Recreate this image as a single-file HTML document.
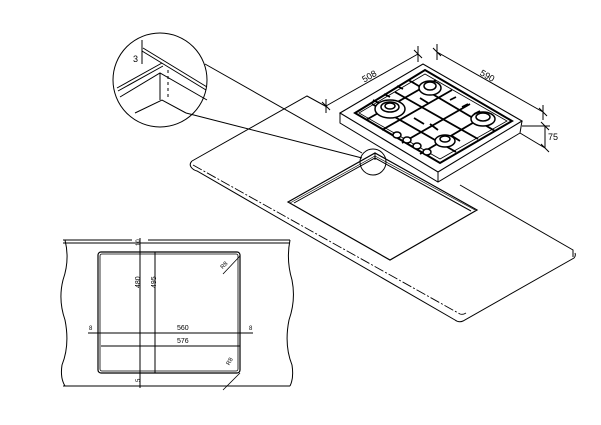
<!DOCTYPE html>
<html><head><style>body{margin:0;background:#fff}svg{display:block}text{font-family:"Liberation Sans",sans-serif;fill:#000}</style></head>
<body>
<svg width="601" height="425" viewBox="0 0 601 425" xmlns="http://www.w3.org/2000/svg" fill="none" stroke="#000" stroke-width="1">
<path d="M192,161 L307,96 L327,107"/>
<path d="M460,185 L573,250 L573,257"/>
<path d="M192,161 Q189,164 191,167 Q193,170 197,171 L455,320 Q459,323 463,321 L574,258 Q576,256 575,253"/>
<path d="M193,165 L460,314 Q463,315 466,313" stroke-dasharray="10,2,2,2" stroke-width="0.9"/>
<path d="M288,202 L375,153 L477,210 L390,260 Z" stroke-width="1.2"/>
<path d="M294,203 L375,158 L471,211"/>
<path d="M290,203 L375,156 L475,210" stroke-width="0.6"/>
<path d="M375,153 L375,160"/>
<path d="M340,113 L423,64 L522,121 L438,172 Z" stroke-width="1.1"/>
<path d="M340,113 L340,123 L438,182 L520,133 L522,121 M438,172 L438,182"/>
<path d="M355,113 L425,70 L512,121 L440,163 Z" stroke-width="2"/>
<path d="M359,113 L425,74 L507,121 L440,159 Z" stroke-width="0.8"/>
<g stroke-width="1.8">
<path d="M372,104 L456,152 M395,92 L478,139 M412,82 L495,131"/>
<path d="M366,120 L436,80 M382,130 L452,90 M402,143 L470,104 M420,154 L488,114"/>
<path d="M373,100 L379,103 M384,94 L390,97 M397,86 L403,89 M408,80 L414,83 M450,100 L456,97 M462,107 L468,104 M474,114 L480,111 M488,124 L494,121 M414,118 L424,124 M430,124 L438,130 M452,136 L460,141 M420,98 L428,103"/>
</g>
<g stroke-width="1.5" fill="#fff">
<ellipse cx="390" cy="109" rx="15" ry="9"/><ellipse cx="390" cy="107" rx="9" ry="5"/><ellipse cx="390" cy="106" rx="5" ry="3"/>
<ellipse cx="430" cy="88" rx="11" ry="7"/><ellipse cx="430" cy="86" rx="6" ry="4"/>
<ellipse cx="483" cy="119" rx="12" ry="7"/><ellipse cx="483" cy="117" rx="7" ry="4"/>
<ellipse cx="445" cy="141" rx="10" ry="6"/><ellipse cx="445" cy="139" rx="5" ry="3"/>
<ellipse cx="397" cy="135" rx="4" ry="3"/><ellipse cx="407" cy="140" rx="4" ry="3"/><ellipse cx="417" cy="146" rx="4" ry="3"/><ellipse cx="427" cy="152" rx="4" ry="3"/>
</g>
<path d="M326,106 L418,54 M322,102 L330,110 M414,50 L422,58 M418,46 L418,62 M326,99 L326,113"/>
<path d="M437,52 L543,112 M433,48 L441,56 M539,108 L547,116 M437,44 L437,60 M543,105 L543,120"/>
<path d="M545,126 L545,148 M541,122 L549,130 M541,144 L549,152 M522,126 L550,126 M520,133 L545,148"/>
<text x="362" y="80" font-size="9" stroke="none" transform="rotate(-30 368 77)">508</text>
<text x="480" y="78" font-size="9" stroke="none" transform="rotate(30 486 75)">590</text>
<text x="548" y="140" font-size="9" stroke="none">75</text>
<circle cx="373" cy="162" r="13"/>
<circle cx="160" cy="80" r="47"/>
<path d="M205,64 L362,153 M186,113 L362,158"/>
<path d="M143,48 L207,87 M142,51 L206,90"/>
<path d="M117,88 L162,63 M118,91 L163,66"/>
<path d="M120,97 L160,73 L207,100"/>
<path d="M160,73 L160,100 M168,70 L168,100"/>
<path d="M168,73 L168,100" stroke="#fff" stroke-dasharray="3,3"/>
<path d="M135,113 L162,100 L186,113"/>
<path d="M142,40 L142,64"/>
<text x="133" y="62" font-size="9" stroke="none">3</text>
<path d="M63,240 L132,240 M148,240 L290,240 M63,243 L290,243 M63,386 L290,386"/>
<path d="M65,240 Q70,260 63,280 Q58,300 65,320 Q70,345 62,365 Q60,378 65,386"/>
<path d="M290,240 Q286,260 292,280 Q296,300 289,320 Q284,345 292,365 Q294,378 290,386"/>
<rect x="98" y="252" width="142" height="121" rx="3" stroke-width="1.2"/>
<rect x="100" y="254" width="138" height="117" rx="2" stroke-width="0.8"/>
<path d="M140,238 L140,388 M155,252 L155,373 M88,333 L253,333 M101,346 L240,346"/>
<path d="M223,274 L240,256 M223,390 L240,373" stroke-width="0.8"/>
<text font-size="6" stroke="none" x="138" y="248" transform="rotate(-90 138 246)">10</text>
<text font-size="7" stroke="none" x="136" y="292" transform="rotate(-90 136 288)">480</text>
<text font-size="7" stroke="none" x="152" y="292" transform="rotate(-90 152 288)">495</text>
<text font-size="6" stroke="none" x="138" y="384" transform="rotate(-90 138 382)">5</text>
<text font-size="6" stroke="none" x="89" y="330">8</text>
<text font-size="6" stroke="none" x="249" y="330">8</text>
<text font-size="7" stroke="none" x="177" y="330">560</text>
<text font-size="7" stroke="none" x="177" y="343">576</text>
<text font-size="6" stroke="none" x="220" y="267" transform="rotate(-45 224 265)">R8</text>
<text font-size="6" stroke="none" x="226" y="364" transform="rotate(-60 229 362)">R8</text>
</svg>
</body></html>
